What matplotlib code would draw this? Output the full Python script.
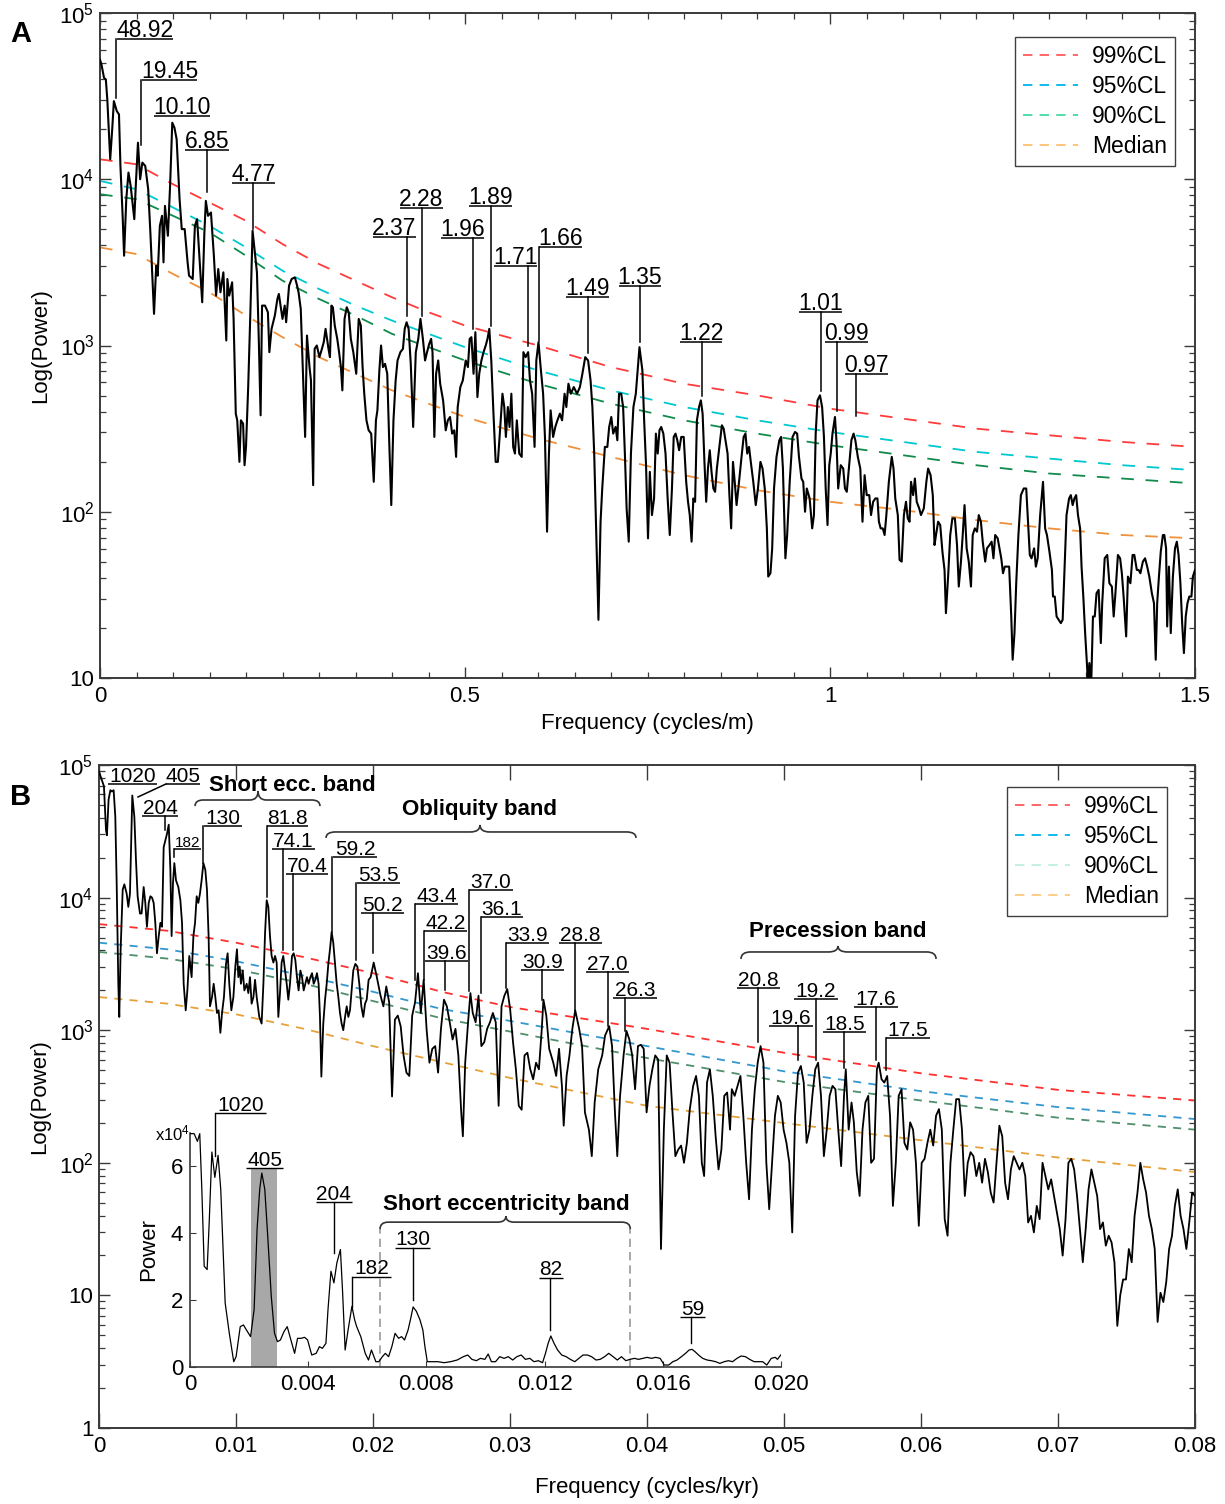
import numpy as np
import matplotlib
matplotlib.use("Agg")
import matplotlib.pyplot as plt
from matplotlib.lines import Line2D
from matplotlib.path import Path
from matplotlib.patches import PathPatch
from matplotlib.ticker import LogLocator, FixedLocator, NullFormatter, FuncFormatter, FixedFormatter

plt.rcParams['font.family'] = ['Liberation Sans', 'DejaVu Sans']
plt.rcParams['mathtext.default'] = 'regular'

# ---------------- DATA ----------------
# Panel A spectrum: (frequency cycles/m, log10 power)
spectrum_a = [
(0.000,4.72),(0.002,4.69),(0.0055,4.61),(0.008,4.60),(0.010,4.48),(0.014,4.12),(0.017,4.32),(0.019,4.47),
(0.023,4.41),(0.026,4.39),(0.028,4.08),(0.031,3.78),(0.033,3.54),(0.036,3.88),(0.039,4.04),(0.042,3.96),
(0.047,3.76),(0.049,3.96),(0.052,4.22),(0.055,4.00),(0.058,4.10),(0.062,4.08),(0.066,3.94),(0.069,3.68),
(0.074,3.19),(0.077,3.48),(0.079,3.42),(0.082,3.72),(0.085,3.78),(0.087,3.50),(0.089,3.84),(0.093,3.66),
(0.096,3.96),(0.099,4.34),(0.102,4.31),(0.105,4.24),(0.109,3.88),(0.112,3.70),(0.116,3.70),(0.120,3.50),
(0.122,3.42),(0.127,3.40),(0.130,3.72),(0.133,3.76),(0.137,3.48),(0.140,3.26),(0.143,3.68),(0.145,3.87),
(0.148,3.78),(0.152,3.80),(0.156,3.54),(0.159,3.30),(0.162,3.46),(0.165,3.32),(0.169,3.44),(0.173,3.03),
(0.1745,3.40),(0.177,3.30),(0.181,3.38),(0.183,3.16),(0.186,2.59),(0.188,2.55),(0.191,2.30),(0.193,2.55),
(0.196,2.53),(0.198,2.28),(0.200,2.39),(0.203,2.75),(0.206,3.20),(0.209,3.69),(0.213,3.52),(0.215,3.44),
(0.2175,3.04),(0.220,2.58),(0.222,3.24),(0.226,3.24),(0.230,3.20),(0.232,2.96),(0.235,3.10),(0.2395,3.18),
(0.243,3.28),(0.245,3.31),(0.248,3.22),(0.250,3.16),(0.253,3.24),(0.255,3.14),(0.259,3.36),(0.2625,3.40),
(0.267,3.41),(0.270,3.36),(0.272,3.32),(0.275,3.22),(0.277,2.96),(0.281,2.45),(0.2835,3.06),(0.287,2.87),
(0.289,2.79),(0.292,2.16),(0.294,2.98),(0.297,3.00),(0.3006,2.93),(0.304,2.98),(0.3065,3.02),(0.309,3.10),
(0.313,2.98),(0.315,2.93),(0.317,3.24),(0.319,3.23),(0.3216,3.12),(0.325,3.04),(0.3275,2.96),(0.330,2.87),
(0.332,2.73),(0.335,3.16),(0.338,3.23),(0.3407,3.20),(0.3436,3.04),(0.347,2.96),(0.351,2.83),(0.3544,3.16),
(0.3573,3.12),(0.3597,2.87),(0.362,2.71),(0.365,2.55),(0.368,2.49),(0.3715,2.47),(0.375,2.18),(0.378,2.55),
(0.380,2.61),(0.3827,2.85),(0.385,3.00),(0.3876,2.87),(0.3905,2.89),(0.3935,2.83),(0.396,2.45),(0.399,2.04),
(0.402,2.55),(0.405,2.79),(0.4076,2.91),(0.4115,2.96),(0.415,2.98),(0.4174,3.10),(0.420,3.14),(0.4228,3.10),
(0.4257,2.89),(0.429,2.51),(0.4326,2.96),(0.436,3.04),(0.439,3.16),(0.4423,3.04),(0.4453,2.91),(0.448,2.96),
(0.451,3.01),(0.4536,3.04),(0.4555,2.96),(0.458,2.45),(0.4604,2.83),(0.4633,2.91),(0.466,2.77),(0.470,2.67),
(0.4736,2.49),(0.4765,2.55),(0.4795,2.57),(0.4824,2.47),(0.4853,2.49),(0.4878,2.33),(0.490,2.63),(0.4936,2.75),
(0.497,2.79),(0.501,2.91),(0.504,2.87),(0.5064,3.04),(0.5088,3.05),(0.5117,2.83),(0.5142,3.08),(0.517,2.69),
(0.5195,2.83),(0.5225,2.91),(0.5254,2.96),(0.5284,3.00),(0.5308,3.04),(0.5333,3.10),(0.536,2.91),(0.539,2.59),
(0.542,2.30),(0.545,2.30),(0.548,2.49),(0.5513,2.71),(0.5538,2.63),(0.556,2.45),(0.5587,2.63),(0.561,2.51),
(0.5635,2.71),(0.566,2.39),(0.5684,2.35),(0.571,2.55),(0.5743,2.35),(0.5777,2.33),(0.580,2.96),(0.583,2.93),
(0.5865,2.96),(0.589,2.79),(0.592,2.71),(0.5953,2.39),(0.5977,2.91),(0.6007,3.02),(0.6036,2.87),(0.607,2.71),
(0.6095,2.45),(0.6124,1.88),(0.615,2.35),(0.6173,2.61),(0.6207,2.45),(0.6237,2.51),(0.6266,2.55),(0.630,2.59),
(0.633,2.55),(0.6364,2.71),(0.6388,2.63),(0.6417,2.77),(0.645,2.71),(0.649,2.75),(0.6535,2.71),(0.6574,2.75),
(0.6608,2.83),(0.6647,2.93),(0.6686,2.91),(0.672,2.79),(0.6745,2.63),(0.677,2.35),(0.6794,1.94),(0.6828,1.35),
(0.6857,1.94),(0.688,2.14),(0.6916,2.39),(0.695,2.39),(0.6975,2.51),(0.7004,2.57),(0.703,2.47),(0.7063,2.51),
(0.7087,2.43),(0.711,2.71),(0.714,2.71),(0.7166,2.63),(0.719,2.35),(0.7214,2.02),(0.7243,1.82),(0.7273,2.35),
(0.7307,2.63),(0.734,2.71),(0.739,2.99),(0.743,2.85),(0.7454,2.55),(0.748,2.28),
(0.7507,1.84),(0.7532,2.24),(0.7561,1.98),(0.759,2.08),(0.7615,2.47),(0.764,2.35),(0.7664,2.49),(0.7688,2.51),
(0.7717,2.47),(0.7747,2.35),(0.7776,2.08),(0.7805,1.86),(0.7835,2.14),(0.7859,2.45),(0.7884,2.47),(0.7908,2.43),
(0.7933,2.37),(0.7962,2.45),(0.7996,2.45),(0.803,2.18),(0.8055,2.06),(0.8079,1.98),(0.8104,1.82),(0.8128,2.08),
(0.8152,2.06),(0.8177,2.55),(0.8206,2.63),(0.8231,2.67),(0.8255,2.59),(0.828,2.30),(0.8304,2.06),(0.8328,2.26),
(0.8353,2.37),(0.8377,2.24),(0.8402,2.14),(0.8426,2.12),(0.845,2.26),(0.8485,2.39),(0.8519,2.52),(0.8543,2.50),
(0.8568,2.43),(0.8597,2.35),(0.8622,2.10),(0.8646,1.90),(0.8671,2.30),(0.8695,2.18),(0.872,2.04),(0.8754,2.18),
(0.8788,2.33),(0.8817,2.45),(0.8842,2.47),(0.8866,2.35),(0.8891,2.39),(0.8915,2.30),(0.8949,2.18),(0.8983,2.04),
(0.9013,2.14),(0.9047,2.30),(0.9076,2.26),(0.9106,2.14),(0.9135,1.90),(0.9154,1.61),(0.9184,1.63),(0.9208,1.78),
(0.9233,2.14),(0.9267,2.33),(0.9306,2.43),(0.933,2.45),(0.9355,2.26),(0.9389,1.72),(0.9413,1.86),(0.9448,2.18),
(0.9487,2.45),(0.9521,2.48),(0.955,2.47),(0.9575,2.33),(0.9609,2.20),(0.9633,2.18),(0.9658,2.00),(0.9682,2.14),
(0.9721,2.08),(0.9756,1.90),(0.978,1.98),(0.9804,2.47),(0.9829,2.67),(0.9863,2.70),(0.9892,2.63),(0.9917,2.45),
(0.9941,2.14),(0.9966,1.92),(0.999,2.28),(1.001,2.35),(1.0034,2.47),(1.0068,2.57),(1.0088,2.43),(1.0112,2.14),
(1.0147,2.28),(1.0181,2.26),(1.0205,2.14),(1.023,2.12),(1.0259,2.26),(1.0293,2.43),(1.0323,2.47),(1.0347,2.43),
(1.0381,2.33),(1.0415,2.26),(1.0445,1.94),(1.0474,2.22),(1.0503,2.10),(1.0538,2.10),(1.0562,1.98),(1.0591,2.06),
(1.0621,2.08),(1.065,2.08),(1.067,1.94),(1.0694,1.90),(1.0723,1.90),(1.0748,1.86),(1.0772,1.98),(1.0806,2.18),
(1.0846,2.33),(1.087,2.26),(1.0894,2.08),(1.0929,1.98),(1.0953,1.71),(1.0982,1.70),(1.1012,1.98),(1.1041,2.06),
(1.1065,1.96),(1.109,1.94),(1.111,2.18),(1.1139,2.10),(1.1163,2.20),(1.1188,2.06),(1.1222,2.02),(1.1246,1.98),
(1.1285,2.02),(1.132,2.18),(1.1344,2.26),(1.1378,2.22),(1.1408,2.10),(1.1432,1.80),(1.1452,1.86),(1.1481,1.94),
(1.151,1.92),(1.154,1.76),(1.1569,1.65),(1.1588,1.39),(1.1618,1.61),(1.1647,1.86),(1.1676,1.96),(1.1711,1.96),
(1.174,1.80),(1.1764,1.55),(1.1794,1.70),(1.1818,1.86),(1.1843,2.04),(1.1872,1.78),(1.1901,1.70),(1.1931,1.55),
(1.1955,1.86),(1.1984,1.90),(1.2014,1.88),(1.2038,1.98),(1.2067,1.94),(1.2092,1.82),(1.2126,1.70),(1.215,1.78),
(1.2185,1.80),(1.2214,1.82),(1.2239,1.72),(1.2263,1.86),(1.2297,1.84),(1.2322,1.78),(1.2346,1.72),(1.237,1.63),
(1.2395,1.67),(1.2419,1.67),(1.2454,1.67),(1.2483,1.37),(1.2502,1.11),(1.2527,1.27),(1.2551,1.57),(1.2581,1.86),
(1.2615,2.10),(1.2654,2.14),(1.2688,2.14),(1.2713,1.94),(1.2737,1.74),(1.2761,1.72),(1.2796,1.78),(1.282,1.67),
(1.2845,1.72),(1.2879,1.98),(1.2918,2.18),(1.2947,1.90),(1.2972,1.86),(1.3006,1.76),(1.304,1.65),(1.3055,1.49),
(1.3079,1.49),(1.3104,1.37),(1.3133,1.35),(1.3162,1.33),(1.3187,1.35),(1.3211,1.63),(1.324,1.98),(1.3275,2.08),
(1.3299,2.10),(1.3324,2.04),(1.3348,2.08),(1.3372,2.10),(1.3397,1.98),(1.3426,1.90),(1.3446,1.67),(1.347,1.49),
(1.3495,1.27),(1.3519,1.09),(1.3534,0.96),(1.3553,1.09),(1.3578,0.96),(1.3602,1.37),(1.3627,1.37),(1.3651,1.51),
(1.368,1.53),(1.371,1.21),(1.3729,1.45),(1.3763,1.72),(1.3798,1.74),(1.3827,1.57),(1.3861,1.55),(1.3886,1.37),
(1.391,1.51),(1.3944,1.74),(1.3974,1.72),(1.3998,1.63),(1.4022,1.49),(1.4057,1.25),(1.4081,1.61),(1.4115,1.57),
(1.4145,1.74),(1.4169,1.74),(1.4203,1.65),(1.4228,1.65),(1.4252,1.63),(1.4286,1.70),(1.4316,1.72),(1.4345,1.67),
(1.4374,1.61),(1.4409,1.51),(1.4438,1.45),(1.4462,1.11),(1.4482,1.45),(1.4506,1.61),(1.4531,1.76),(1.456,1.86),
(1.458,1.86),(1.4604,1.78),(1.4619,1.31),(1.4643,1.67),(1.4668,1.27),(1.4697,1.61),(1.4726,1.78),(1.4751,1.82),
(1.4775,1.74),(1.48,1.57),(1.4824,1.33),(1.4848,1.15),(1.4873,1.37),(1.4897,1.45),(1.4922,1.49),(1.4951,1.49),
(1.4971,1.61),(1.5,1.65),
]

# Panel A confidence levels (log10 power)
cl_freq_a = [0, 0.05, 0.1, 0.15, 0.2, 0.25, 0.3, 0.35, 0.4, 0.45, 0.5, 0.6, 0.7, 0.8, 0.9, 1.0, 1.1, 1.2, 1.3, 1.4, 1.5]
cl99_a = [4.12, 4.09, 3.97, 3.86, 3.75, 3.61, 3.49, 3.39, 3.29, 3.20, 3.12, 3.00, 2.87, 2.77, 2.70, 2.62, 2.56, 2.50, 2.46, 2.42, 2.39]
cl95_a = [3.99, 3.94, 3.83, 3.72, 3.59, 3.45, 3.34, 3.24, 3.15, 3.07, 2.99, 2.85, 2.73, 2.63, 2.55, 2.48, 2.42, 2.36, 2.32, 2.28, 2.25]
cl90_a = [3.91, 3.88, 3.78, 3.68, 3.54, 3.39, 3.28, 3.18, 3.07, 2.99, 2.91, 2.77, 2.65, 2.55, 2.47, 2.40, 2.34, 2.28, 2.23, 2.20, 2.17]
median_a = [3.59, 3.55, 3.43, 3.32, 3.18, 3.05, 2.93, 2.83, 2.73, 2.65, 2.57, 2.44, 2.33, 2.22, 2.13, 2.06, 2.01, 1.95, 1.90, 1.86, 1.84]

# Panel B spectrum: (frequency cycles/kyr, log10 power)
spectrum_b = [
(0.0,4.95),(0.0002,4.89),(0.00036,4.84),(0.00051,4.51),(0.00058,4.47),(0.0007,4.74),(0.00083,4.81),(0.00095,4.80),
(0.00107,4.81),(0.00119,4.61),(0.00129,4.11),(0.00141,3.35),(0.00148,3.10),(0.00158,3.61),(0.00173,4.06),(0.00185,4.10),
(0.00202,4.03),(0.00214,3.93),(0.00226,4.03),(0.00243,4.77),(0.00258,4.61),(0.0027,4.28),(0.00282,4.01),(0.00299,3.88),
(0.00311,3.88),(0.00326,4.08),(0.00338,3.96),(0.0035,3.78),(0.00363,3.96),(0.00375,4.01),(0.00387,4.00),(0.00399,3.96),
(0.00411,3.81),(0.00423,3.58),(0.00436,3.71),(0.00448,3.81),(0.0046,3.78),(0.00472,4.38),(0.00484,4.43),(0.00496,4.48),
(0.00509,4.55),(0.00521,4.21),(0.0053,3.71),(0.0054,4.11),(0.0055,4.26),(0.00562,4.13),(0.00579,4.08),(0.00594,3.98),
(0.00606,3.81),(0.00618,3.35),(0.00633,3.15),(0.00645,3.30),(0.00659,3.56),(0.00676,3.40),(0.00689,3.71),(0.00701,3.81),
(0.00713,4.01),(0.00725,3.96),(0.00737,4.03),(0.00749,4.13),(0.00762,4.26),(0.00776,4.21),(0.00788,4.06),(0.008,3.71),
(0.0081,3.18),(0.00825,3.25),(0.00837,3.35),(0.00849,3.25),(0.00861,3.13),(0.00873,3.15),(0.00886,2.98),(0.00898,3.13),
(0.00912,3.25),(0.00927,3.50),(0.00939,3.58),(0.00951,3.35),(0.00966,3.15),(0.00981,3.25),(0.00995,3.48),(0.01007,3.61),
(0.01017,3.40),(0.01027,3.48),(0.01036,3.35),(0.01049,3.45),(0.01061,3.30),(0.01078,3.35),(0.0109,3.28),(0.01102,3.40),
(0.01114,3.20),(0.01127,3.25),(0.01139,3.38),(0.01151,3.25),(0.0117,3.10),(0.01187,3.05),(0.012,3.35),(0.01212,3.73),
(0.01224,3.98),(0.01236,3.93),(0.01248,3.71),(0.0126,3.56),(0.01273,3.51),(0.01285,3.56),(0.01297,3.51),(0.01309,3.10),
(0.01321,3.28),(0.01333,3.51),(0.01345,3.56),(0.01358,3.45),(0.0137,3.35),(0.01382,3.23),(0.01394,3.35),(0.01409,3.56),
(0.01421,3.58),(0.01433,3.53),(0.01445,3.40),(0.01457,3.30),(0.0147,3.45),(0.01482,3.40),(0.01494,3.30),(0.01506,3.35),
(0.01518,3.40),(0.0153,3.35),(0.01543,3.40),(0.01555,3.43),(0.01567,3.35),(0.01579,3.38),(0.01591,3.43),(0.01603,3.35),
(0.01613,3.10),(0.01623,2.65),(0.01637,3.05),(0.0165,3.23),(0.01662,3.35),(0.01674,3.50),(0.01686,3.61),(0.01698,3.74),
(0.0171,3.66),(0.01723,3.50),(0.01735,3.35),(0.01747,3.25),(0.01759,3.13),(0.01771,3.05),(0.01783,3.00),(0.01796,3.10),
(0.01808,3.18),(0.0182,3.10),(0.01832,3.15),(0.01844,3.30),(0.01856,3.45),(0.01871,3.50),(0.01886,3.48),(0.019,3.35),
(0.01915,3.18),(0.01929,3.10),(0.01942,3.20),(0.01954,3.23),(0.01968,3.38),(0.01983,3.40),
(0.02005,3.51),(0.02026,3.41),(0.02055,3.26),(0.02076,3.18),(0.02097,3.33),(0.02118,3.21),(0.02139,2.50),(0.0216,3.08),
(0.02181,3.11),(0.02202,3.03),(0.02223,2.81),(0.02244,2.68),(0.02265,2.655),(0.02286,3.11),(0.02307,3.21),(0.02328,3.43),
(0.02349,3.13),(0.0237,3.38),(0.02391,3.01),(0.02412,2.755),(0.02433,2.86),(0.02454,2.88),(0.02475,2.68),(0.02496,3.01),
(0.02518,3.23),(0.02539,3.18),(0.0256,3.06),(0.02581,2.93),(0.02602,3.01),(0.02623,2.81),(0.02644,2.38),(0.02656,2.20),
(0.02673,2.755),(0.02694,3.06),(0.02711,3.28),(0.02728,3.13),(0.02749,3.06),(0.0277,3.26),(0.02791,2.88),(0.02812,2.91),
(0.02833,3.01),(0.02854,3.06),(0.02875,3.13),(0.02896,3.06),(0.02917,2.43),(0.02938,3.18),(0.02959,3.26),(0.0298,3.31),
(0.03001,3.16),(0.03022,2.91),(0.03043,2.705),(0.03064,2.43),(0.03085,2.40),(0.03106,2.81),(0.03127,2.83),(0.03148,2.705),
(0.03169,2.63),(0.0319,2.755),(0.03211,2.705),(0.03232,3.01),(0.03244,3.23),(0.03265,3.11),(0.03286,2.86),(0.03316,2.755),
(0.03337,2.655),(0.03358,2.86),(0.03379,2.58),(0.03392,2.28),(0.03413,2.655),(0.03434,2.81),(0.03455,3.01),(0.03476,3.15),
(0.03505,3.01),(0.03526,2.88),(0.03547,2.38),(0.03576,2.25),(0.03597,2.05),(0.03618,2.455),(0.03644,2.705),(0.03673,2.81),
(0.03694,2.96),(0.03724,3.03),(0.03745,2.88),(0.03766,2.38),(0.03783,2.05),(0.03803,2.50),(0.03829,2.81),(0.0385,2.995),
(0.03871,2.93),(0.03892,2.81),(0.03913,2.555),(0.03934,2.88),(0.03955,2.89),(0.03976,2.86),(0.03997,2.38),(0.04018,2.58),
(0.04039,2.705),(0.0406,2.81),(0.04081,2.78),(0.04102,1.35),(0.04123,2.25),(0.04144,2.81),(0.04165,2.755),(0.04186,2.38),
(0.04207,2.05),(0.04228,2.10),(0.04249,2.13),(0.0427,2.00),(0.04291,2.15),(0.04312,2.40),(0.04337,2.58),(0.04358,2.655),
(0.04379,2.505),(0.044,2.00),(0.04417,1.90),(0.04438,2.605),(0.04459,2.705),(0.0448,2.505),(0.04501,2.20),(0.04522,1.95),
(0.04543,2.10),(0.04564,2.505),(0.04585,2.53),(0.04606,2.25),(0.04619,2.555),(0.0464,2.505),(0.04661,2.58),(0.04682,2.655),
(0.04703,2.355),(0.04724,2.00),(0.04745,1.725),(0.04766,2.25),(0.04787,2.555),(0.04808,2.755),(0.04829,2.88),(0.0485,2.755),
(0.04871,2.00),(0.04892,1.65),(0.04913,2.00),(0.04934,2.355),(0.04955,2.505),(0.04976,2.455),(0.04997,2.25),(0.05018,2.15),
(0.05039,2.00),(0.0506,1.475),(0.05081,2.355),(0.05102,2.68),(0.05123,2.73),(0.05144,2.605),(0.05165,2.15),(0.05186,2.25),
(0.05207,2.505),(0.05228,2.705),(0.05249,2.755),(0.0527,2.505),(0.05291,2.05),(0.05312,2.25),(0.05333,2.505),(0.05354,2.58),
(0.05375,2.555),(0.05396,2.25),(0.05417,1.975),(0.05438,2.505),(0.05451,2.705),(0.05472,2.25),(0.05493,2.455),(0.0551,2.305),
(0.05531,1.93),(0.05552,1.75),(0.05573,2.25),(0.05594,2.455),(0.05615,2.505),(0.05636,2.00),(0.05657,2.03),(0.05678,2.705),
(0.05691,2.755),(0.05712,2.63),(0.05732,2.605),(0.05753,2.655),(0.05774,2.355),(0.05795,1.675),(0.05816,2.00),(0.05837,2.505),
(0.05858,2.555),(0.05879,2.15),(0.059,2.10),(0.05921,2.305),(0.05942,2.25),(0.05963,2.00),(0.05984,1.525),(0.06005,2.00),
(0.06026,2.03),(0.06047,2.15),(0.06068,2.25),(0.06089,2.13),(0.0611,2.355),(0.06131,2.405),(0.06152,2.25),(0.06173,1.575),
(0.06194,1.45),(0.06215,2.00),(0.06236,2.25),(0.06257,2.48),(0.06278,2.48),(0.06299,2.25),(0.0632,1.75),(0.06341,2.00),
(0.06362,2.08),(0.06383,2.05),(0.06404,1.90),(0.06425,2.00),(0.06446,1.85),(0.06467,2.03),(0.06488,1.93),(0.06509,1.775),
(0.0653,1.70),(0.06551,2.00),(0.06572,2.28),(0.06593,2.20),(0.06614,1.85),(0.06635,1.725),(0.06656,1.95),(0.06677,2.05),
(0.06698,2.00),(0.06719,1.95),(0.0674,2.00),(0.06761,1.90),(0.06782,1.55),(0.06803,1.60),(0.06824,1.475),(0.06845,1.675),
(0.06866,1.575),(0.06887,2.00),(0.06908,1.90),(0.06929,1.80),(0.0695,1.875),(0.06971,1.75),(0.06992,1.625),(0.07013,1.50),
(0.07034,1.30),(0.07055,1.575),(0.07076,2.00),(0.07097,2.03),(0.07118,1.95),(0.07139,1.75),(0.0716,1.50),(0.07181,1.25),
(0.07202,1.50),(0.07223,1.80),(0.07244,1.95),(0.07265,1.85),(0.07286,1.75),(0.07307,1.50),(0.07328,1.55),(0.07349,1.375),
(0.0737,1.45),(0.07391,1.40),(0.07412,1.25),(0.07433,0.77),(0.07454,1.00),(0.07475,1.12),(0.07496,1.12),(0.07517,1.35),
(0.07538,1.25),(0.07559,1.60),(0.0758,1.775),(0.07601,2.00),(0.07622,1.875),(0.07643,1.775),(0.07664,1.60),(0.07685,1.50),
(0.07706,1.35),(0.07727,0.80),(0.07748,1.02),(0.07769,0.95),(0.0779,1.10),(0.07811,1.35),(0.07832,1.45),(0.07853,1.675),
(0.07874,1.80),(0.07895,1.60),(0.07916,1.50),(0.07937,1.35),(0.07958,1.55),(0.07979,1.775),(0.08,1.75),
]

# Panel B confidence levels (log10 power)
cl_freq_b = [0, 0.005, 0.01, 0.015, 0.02, 0.025, 0.03, 0.04, 0.05, 0.06, 0.07, 0.08]
cl99_b = [3.80, 3.75, 3.66, 3.55, 3.43, 3.29, 3.175, 3.01, 2.83, 2.675, 2.55, 2.47]
cl95_b = [3.66, 3.61, 3.52, 3.41, 3.29, 3.16, 3.07, 2.88, 2.69, 2.54, 2.42, 2.33]
cl90_b = [3.59, 3.54, 3.46, 3.35, 3.22, 3.09, 2.99, 2.79, 2.61, 2.47, 2.34, 2.25]
median_b = [3.25, 3.20, 3.12, 3.01, 2.88, 2.76, 2.64, 2.43, 2.30, 2.17, 2.04, 1.93]

# Inset: linear power (x 10^4) vs frequency (cycles/kyr)
inset_spectrum = [
(0.0,6.98),(0.00014,6.98),(0.00025,6.75),(0.00033,6.98),(0.0004,5.32),(0.00048,3.01),(0.00058,2.91),(0.00065,4.32),
(0.00074,6.43),(0.00084,5.67),(0.00095,6.33),(0.00104,5.32),(0.00119,1.91),(0.00133,1.0),(0.00148,0.15),(0.00156,0.30),
(0.0017,1.2),(0.00181,1.25),(0.00191,1.1),(0.00205,0.9),(0.00217,1.71),(0.00227,4.12),(0.00236,5.32),(0.00243,5.80),
(0.00253,5.32),(0.00263,3.92),(0.00275,2.11),(0.00286,1.0),(0.00296,0.75),(0.00306,0.8),(0.00318,1.05),(0.00329,1.2),
(0.0034,0.85),(0.00354,0.4),(0.00364,0.85),(0.00376,0.85),(0.00388,0.88),(0.00398,0.8),(0.00412,0.35),(0.00427,0.40),
(0.00438,0.6),(0.00448,0.55),(0.0046,0.7),(0.00467,1.71),(0.00477,2.86),(0.00487,2.51),(0.00497,3.11),(0.00509,3.51),
(0.00516,2.31),(0.00525,0.5),(0.00535,1.1),(0.00548,1.81),(0.00557,1.41),(0.00564,1.2),(0.00578,0.9),(0.00593,0.4),
(0.00604,0.2),(0.00614,0.5),(0.00629,0.15),(0.00639,0.15),(0.00651,0.3),(0.00661,0.4),(0.00672,0.3),(0.00683,0.6),
(0.00694,1.0),(0.00706,0.85),(0.00716,0.9),(0.00726,0.8),(0.00738,1.1),(0.00746,1.41),(0.00755,1.79),(0.00766,1.66),
(0.00778,1.41),(0.00788,1.1),(0.00795,0.6),(0.00803,0.15),(0.00817,0.15),(0.00839,0.15),(0.0086,0.12),(0.00882,0.15),
(0.00904,0.2),(0.00925,0.3),(0.0094,0.35),(0.00954,0.22),(0.00969,0.18),(0.00983,0.25),(0.00998,0.22),(0.01009,0.38),
(0.0102,0.15),(0.01034,0.15),(0.01048,0.3),(0.01063,0.25),(0.01077,0.3),(0.01092,0.2),(0.01106,0.3),(0.01121,0.35),
(0.01135,0.22),(0.0115,0.25),(0.01164,0.15),(0.01179,0.18),(0.01193,0.12),(0.01203,0.4),(0.01212,0.7),(0.01221,0.92),
(0.01232,0.7),(0.01244,0.5),(0.01258,0.35),(0.01273,0.3),(0.01287,0.22),(0.01302,0.15),(0.01316,0.25),(0.0133,0.35),
(0.01345,0.35),(0.01359,0.3),(0.01374,0.2),(0.01388,0.22),(0.01403,0.3),(0.01417,0.4),(0.01432,0.3),(0.01446,0.2),
(0.0146,0.3),(0.01475,0.18),(0.01489,0.22),(0.01504,0.25),(0.01518,0.22),(0.01533,0.25),(0.01547,0.28),(0.01562,0.25),
(0.01576,0.28),(0.01591,0.25),(0.01605,0.05),(0.0162,0.05),(0.01634,0.15),(0.01648,0.2),(0.01663,0.3),(0.01677,0.4),
(0.01689,0.5),(0.01699,0.52),(0.01709,0.45),(0.01721,0.35),(0.01735,0.25),(0.0175,0.2),(0.01764,0.18),(0.01779,0.15),
(0.01793,0.1),(0.01808,0.15),(0.01822,0.18),(0.01836,0.15),(0.01851,0.25),(0.01865,0.32),(0.0188,0.3),(0.01894,0.22),
(0.01909,0.15),(0.01923,0.15),(0.01938,0.15),(0.01952,0.05),(0.01967,0.25),(0.01981,0.28),(0.01988,0.22),(0.01999,0.35),
]
band_405 = (0.00205, 0.00293, 5.95)        # highlighted 405-kyr band (x0, x1, top)
short_ecc_limits = (0.00643, 0.0149)       # dashed limits of short eccentricity band

# peak labels: text, leader x, underline x0, x1, underline y, peak y (log10 power)
labels_a = [
("48.92", 0.0219, 0.0233, 0.1000, 4.844, 4.49),
("19.45", 0.0562, 0.0575, 0.1329, 4.598, 4.208),
("10.10", None, 0.0740, 0.1507, 4.382, None),
("6.85", 0.1466, 0.1164, 0.1767, 4.178, 3.921),
("4.77", 0.2096, 0.1808, 0.2397, 3.975, 3.699),
("2.37", 0.4205, 0.3740, 0.4329, 3.651, 3.177),
("2.28", 0.4411, 0.4110, 0.4699, 3.825, 3.177),
("1.96", 0.5110, 0.4671, 0.5260, 3.645, 3.099),
("1.89", 0.5356, 0.5055, 0.5644, 3.837, 3.117),
("1.71", 0.5863, 0.5397, 0.5986, 3.477, 2.997),
("1.66", 0.6014, 0.6014, 0.6603, 3.591, 3.027),
("1.49", 0.6685, 0.6384, 0.6973, 3.291, 2.955),
("1.35", 0.7397, 0.7110, 0.7685, 3.357, 3.021),
("1.22", 0.8247, 0.7945, 0.8520, 3.021, 2.697),
("1.01", 0.9877, 0.9575, 1.0164, 3.201, 2.727),
("0.99", 1.0096, 0.9932, 1.0520, 3.021, 2.607),
("0.97", 1.0356, 1.0205, 1.0795, 2.829, 2.577),
]
labels_b = [
("1020", None, 0.00066, 0.00423, 4.857, None, 15),
("204", 0.00482, 0.00314, 0.00577, 4.615, 4.51, 15),
("182", 0.00547, 0.00547, 0.00745, 4.367, 4.306, 11),
("130", 0.00759, 0.00766, 0.01044, 4.54, 4.26, 15),
("81.8", 0.01226, 0.01226, 0.01526, 4.54, 4.005, 15),
("74.1", 0.01343, 0.01263, 0.01577, 4.367, 3.605, 15),
("70.4", 0.01416, 0.01365, 0.01672, 4.178, 3.605, 15),
("59.2", 0.01701, 0.01708, 0.02029, 4.306, 3.741, 15),
("53.5", 0.01876, 0.01883, 0.02197, 4.11, 3.529, 15),
("50.2", 0.0200, 0.01912, 0.02226, 3.884, 3.582, 15),
("43.4", 0.02307, 0.02307, 0.0262, 3.952, 3.379, 15),
("42.2", 0.02372, 0.02372, 0.02686, 3.748, 3.379, 15),
("39.6", 0.02526, 0.0238, 0.02693, 3.522, 3.303, 15),
("37.0", 0.02701, 0.02701, 0.03022, 4.057, 3.296, 15),
("36.1", 0.02788, 0.02788, 0.03095, 3.854, 3.281, 15),
("33.9", 0.02971, 0.02971, 0.03285, 3.658, 3.318, 15),
("30.9", 0.03234, 0.0308, 0.03394, 3.454, 3.228, 15),
("28.8", 0.03474, 0.03358, 0.03672, 3.658, 3.152, 15),
("27.0", 0.03715, 0.03555, 0.03869, 3.439, 3.032, 15),
("26.3", 0.03839, 0.03752, 0.04073, 3.243, 2.994, 15),
("20.8", 0.0481, 0.04657, 0.04971, 3.318, 2.911, 15),
("19.6", 0.05102, 0.04891, 0.05212, 3.032, 2.775, 15),
("19.2", 0.05234, 0.05073, 0.05394, 3.235, 2.775, 15),
("18.5", 0.05438, 0.05285, 0.05599, 2.986, 2.715, 15),
("17.6", 0.05672, 0.05511, 0.05832, 3.175, 2.775, 15),
("17.5", 0.05745, 0.05745, 0.06066, 2.941, 2.70, 15),
]
labels_in = [
("1020", 0.00086, 0.00086, 0.00257, 7.6, 6.3),
("405", None, 0.0019, 0.00315, 5.95, None),
("204", 0.00487, 0.00426, 0.00548, 4.92, 3.4),
("182", 0.00548, 0.00548, 0.0068, 2.7, 1.8),
("130", 0.00755, 0.00694, 0.00812, 3.57, 2.0),
("82", 0.01218, 0.01181, 0.01262, 2.67, 1.1),
("59", 0.01697, 0.01658, 0.01743, 1.5, 0.7),
]

# ---------------- FIGURE ----------------
W, H = 1225, 1504
fig = plt.figure(figsize=(W/100, H/100), dpi=100)
axA = fig.add_axes([100/W, 1-678/H, 1095/W, 665/H])
axB = fig.add_axes([99/W, 1-1428/H, 1096/W, 663/H])
axI = fig.add_axes([190/W, 1-1366.7/H, 591/W, 233.7/H])

SPINE = '#3a3a3a'
def p10(v):
    return 10 ** np.asarray(v, dtype=float)

def log_fmt(v, pos):
    e = int(round(np.log10(v)))
    if e == 0:
        return '1'
    if e == 1:
        return '10'
    return '$10^{%d}$' % e

def style_log_axes(ax):
    ax.set_yscale('log')
    ax.yaxis.set_major_locator(LogLocator(base=10, numticks=20))
    ax.yaxis.set_minor_locator(LogLocator(base=10, subs=np.arange(2, 10), numticks=20))
    ax.yaxis.set_major_formatter(FuncFormatter(log_fmt))
    ax.yaxis.set_minor_formatter(NullFormatter())
    ax.tick_params(which='both', direction='in', top=True, right=True, labelsize=16, colors='k')
    ax.tick_params(which='major', length=8, width=1.0, color=SPINE)
    ax.tick_params(which='minor', length=4, width=0.9, color=SPINE)
    ax.tick_params(axis='y', pad=4)
    ax.tick_params(axis='x', pad=6)
    for s in ax.spines.values():
        s.set_color(SPINE)
        s.set_linewidth(1.4)

def peak_tag(ax, text, lx, x0, x1, yb, yp, fs=15, conv=p10, lw=1.1):
    yb_v = conv(yb)
    ax.plot([x0, x1], [yb_v, yb_v], color='k', lw=lw, clip_on=False, zorder=6, solid_capstyle='butt')
    if lx is not None:
        ax.plot([lx, lx], [yb_v, conv(yp)], color='k', lw=lw, clip_on=False, zorder=6)
    ax.annotate(text, xy=((x0 + x1) / 2, yb_v), xytext=(0, 1.5), textcoords='offset points',
                ha='center', va='baseline', fontsize=fs, annotation_clip=False, zorder=7)

def brace(ax, x0, x1, xm, y_end, y_line, y_cusp, r, conv=p10, lw=1.2, color='#333333'):
    ye, yl, yc = conv(y_end), conv(y_line), conv(y_cusp)
    verts = [(x0, ye), (x0, yl), (x0 + r, yl), (xm - r, yl), (xm, yl), (xm, yc),
             (xm, yl), (xm + r, yl), (x1 - r, yl), (x1, yl), (x1, ye)]
    codes = [Path.MOVETO, Path.CURVE3, Path.CURVE3, Path.LINETO, Path.CURVE3, Path.CURVE3,
             Path.CURVE3, Path.CURVE3, Path.LINETO, Path.CURVE3, Path.CURVE3]
    ax.add_patch(PathPatch(Path(verts, codes), fill=False, lw=lw, edgecolor=color, clip_on=False, zorder=6))

# ---------- Panel A ----------
fa = [p[0] for p in spectrum_a]
la = [p[1] for p in spectrum_a]
style_log_axes(axA)
axA.set_xlim(0, 1.5)
axA.set_ylim(10, 1e5)
axA.plot(cl_freq_a, p10(cl99_a), color='#ff3b3b', lw=1.3, dashes=(7, 6.5), zorder=2)
axA.plot(cl_freq_a, p10(cl95_a), color='#00c8d0', lw=1.3, dashes=(7, 6.5), zorder=2)
axA.plot(cl_freq_a, p10(cl90_a), color='#118a4c', lw=1.3, dashes=(7, 6.5), zorder=2)
axA.plot(cl_freq_a, p10(median_a), color='#f0903a', lw=1.3, dashes=(7, 6.5), zorder=2)
axA.plot(fa, p10(la), color='k', lw=1.5, zorder=3)
axA.xaxis.set_major_locator(FixedLocator([0, 0.5, 1.0, 1.5]))
axA.xaxis.set_major_formatter(FixedFormatter(['0', '0.5', '1', '1.5']))
axA.xaxis.set_minor_locator(FixedLocator(np.arange(0.05, 1.5, 0.05)))
axA.set_xlabel('Frequency (cycles/m)', fontsize=16, labelpad=4)
axA.set_ylabel('Log(Power)', fontsize=16, labelpad=6)
for (t, lx, x0, x1, yb, yp) in labels_a:
    peak_tag(axA, t, lx, x0, x1, yb, yp, fs=16.5)

def cl_handles(colors):
    return [Line2D([], [], color=c, lw=1.3, ls=(0, (5.2, 4.0))) for c in colors]

legA = axA.legend(cl_handles(['#ff5a5a', '#00b4ea', '#40dca0', '#ffbf70']),
                  ['99%CL', '95%CL', '90%CL', 'Median'], loc='upper right',
                  bbox_to_anchor=(1 - 20/1095, 1 - 24/665), borderaxespad=0, fontsize=16.5,
                  fancybox=False, framealpha=1, edgecolor='#404040', handlelength=2.4,
                  handletextpad=0.6, labelspacing=0.3, borderpad=0.35)
legA.get_frame().set_linewidth(1.0)

# ---------- Panel B ----------
fb = [p[0] for p in spectrum_b]
lb = [p[1] for p in spectrum_b]
style_log_axes(axB)
axB.set_xlim(0, 0.08)
axB.set_ylim(1, 1e5)
axB.plot(cl_freq_b, p10(cl99_b), color='#ff3030', lw=1.3, dashes=(4.5, 4), zorder=2)
axB.plot(cl_freq_b, p10(cl95_b), color='#3398cf', lw=1.3, dashes=(4.5, 4), zorder=2)
axB.plot(cl_freq_b, p10(cl90_b), color='#4f8f6c', lw=1.3, dashes=(4.5, 4), zorder=2)
axB.plot(cl_freq_b, p10(median_b), color='#e6a23a', lw=1.3, dashes=(4.5, 4), zorder=2)
axB.plot(fb, p10(lb), color='k', lw=1.3, zorder=3)
axB.xaxis.set_major_locator(FixedLocator(np.round(np.arange(0, 0.081, 0.01), 2)))
axB.xaxis.set_major_formatter(FixedFormatter(['0', '0.01', '0.02', '0.03', '0.04', '0.05', '0.06', '0.07', '0.08']))
axB.tick_params(axis='x', which='major', length=11)
axB.set_xlabel('Frequency (cycles/kyr)', fontsize=16, labelpad=14)
axB.set_ylabel('Log(Power)', fontsize=16, labelpad=6)
for (t, lx, x0, x1, yb, yp, fs) in labels_b:
    peak_tag(axB, t, lx, x0, x1, yb, yp, fs=fs)
# 405 label with slanted leader
peak_tag(axB, '405', None, 0.00489, 0.00737, 4.857, None, fs=15)
axB.plot([0.00285, 0.00489], p10([4.759, 4.857]), color='k', lw=1.1, zorder=6)

# band braces and titles
brace(axB, 0.00701, 0.01613, 0.01161, 4.69, 4.736, 4.804, 0.0006)
axB.text(0.01409, p10(4.849), 'Short ecc. band', ha='center', va='center', fontsize=16, fontweight='bold', zorder=7)
brace(axB, 0.01657, 0.0392, 0.02781, 4.45, 4.495, 4.548, 0.0007)
axB.text(0.02781, p10(4.668), 'Obliquity band', ha='center', va='center', fontsize=16, fontweight='bold', zorder=7)
brace(axB, 0.04686, 0.0611, 0.05394, 3.537, 3.59, 3.635, 0.0007)
axB.text(0.05394, p10(3.748), 'Precession band', ha='center', va='center', fontsize=16, fontweight='bold', zorder=7)

legB = axB.legend(cl_handles(['#ff5a5a', '#00b4ea', '#bfeedf', '#ffc880']),
                  ['99%CL', '95%CL', '90%CL', 'Median'], loc='upper right',
                  bbox_to_anchor=(1 - 28/1096, 1 - 22/663), borderaxespad=0, fontsize=16.5,
                  fancybox=False, framealpha=1, edgecolor='#404040', handlelength=2.4,
                  handletextpad=0.6, labelspacing=0.3, borderpad=0.35)
legB.get_frame().set_linewidth(1.0)

# ---------- Inset ----------
fi = [p[0] for p in inset_spectrum]
pi = [p[1] for p in inset_spectrum]
axI.set_facecolor('none')
axI.set_xlim(0, 0.02)
axI.set_ylim(0, 7)
axI.fill_between([band_405[0], band_405[1]], 0, band_405[2], color='#a8a8a8', lw=0, zorder=1)
axI.plot(fi, pi, color='k', lw=0.9, zorder=3)
for xv in short_ecc_limits:
    axI.plot([xv, xv], [0, 4.12], color='#9a9a9a', lw=1.2, ls=(0, (5, 3)), zorder=2)
brace(axI, short_ecc_limits[0], short_ecc_limits[1], 0.01069, 4.12, 4.33, 4.51, 0.00028, conv=lambda v: v)
axI.text(0.01069, 4.87, 'Short eccentricity band', ha='center', va='center', fontsize=16, fontweight='bold')
for (t, lx, x0, x1, yb, yp) in labels_in:
    peak_tag(axI, t, lx, x0, x1, yb, yp, fs=15, conv=lambda v: v, lw=1.0)
axI.spines['top'].set_visible(False)
axI.spines['right'].set_visible(False)
for s in ['left', 'bottom']:
    axI.spines[s].set_color(SPINE)
    axI.spines[s].set_linewidth(1.2)
axI.set_xticks([0, 0.004, 0.008, 0.012, 0.016, 0.020])
axI.set_xticklabels(['0', '0.004', '0.008', '0.012', '0.016', '0.020'])
axI.set_yticks([0, 2, 4, 6])
axI.set_yticklabels(['0', '2', '4', '6'])
axI.tick_params(direction='in', length=4, labelsize=16, color=SPINE, pad=5)
axI.set_ylabel('Power', fontsize=16, labelpad=8)
axI.text(0, 7, 'x10$^4$', ha='right', va='center', fontsize=12)

# panel letters
fig.text(10/W, 1-34/H, 'A', fontsize=21, fontweight='bold', va='center', ha='left')
fig.text(10/W, 1-797/H, 'B', fontsize=21, fontweight='bold', va='center', ha='left')

fig.savefig('out.png', dpi=100, facecolor='white')
